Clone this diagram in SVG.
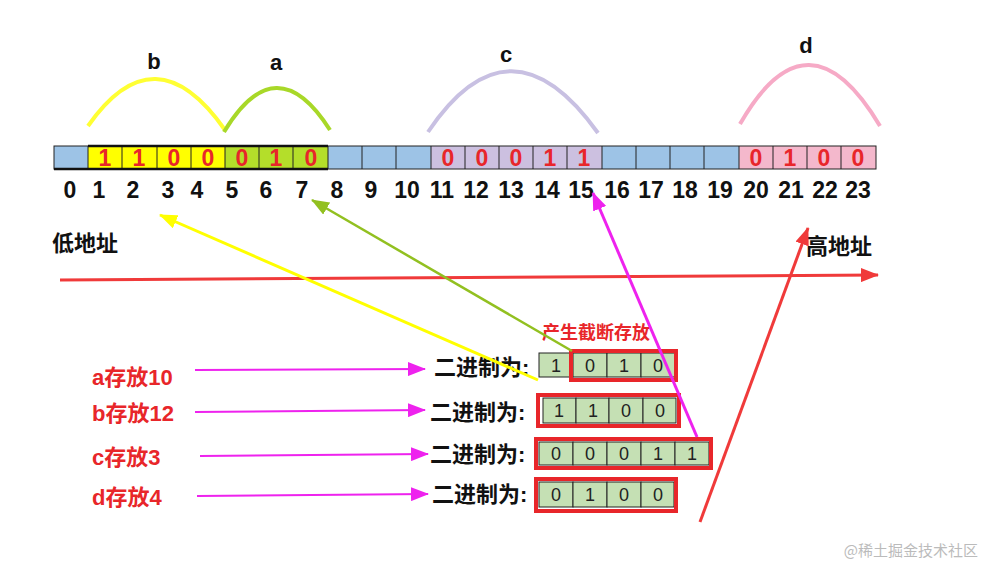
<svg xmlns="http://www.w3.org/2000/svg" width="987" height="565" viewBox="0 0 987 565">
<style>
.c{stroke:#222;stroke-width:1}
.d{font:bold 23px "Liberation Sans",sans-serif;fill:#e8262a;text-anchor:middle}
.n{font:bold 23px "Liberation Sans",sans-serif;fill:#111;text-anchor:middle}
.l{font:bold 22px "Liberation Sans",sans-serif;fill:#111;text-anchor:middle}
.z{font:bold 22px "Liberation Sans","Noto Sans CJK SC",sans-serif;fill:#111}
.r{font:bold 22px "Liberation Sans","Noto Sans CJK SC",sans-serif;fill:#e8262a}
.b{font:18px "Liberation Sans",sans-serif;fill:#222;text-anchor:middle}
.g{fill:#c5e0b4;stroke:#222;stroke-width:1}
.rb{fill:none;stroke:#e8262a;stroke-width:4}
</style>
<defs>
<marker id="mb" markerWidth="18" markerHeight="14" refX="17" refY="7" orient="auto" markerUnits="userSpaceOnUse"><path d="M0,0L18,7L0,14z" fill="#ee22ee"/></marker>
<marker id="my" markerWidth="18" markerHeight="14" refX="17" refY="7" orient="auto" markerUnits="userSpaceOnUse"><path d="M0,0L18,7L0,14z" fill="#ffff00"/></marker>
<marker id="mg" markerWidth="18" markerHeight="14" refX="17" refY="7" orient="auto" markerUnits="userSpaceOnUse"><path d="M0,0L18,7L0,14z" fill="#92c020"/></marker>
<marker id="mr" markerWidth="18" markerHeight="14" refX="17" refY="7" orient="auto" markerUnits="userSpaceOnUse"><path d="M0,0L18,7L0,14z" fill="#f03a3a"/></marker>
</defs>
<rect width="987" height="565" fill="#fff"/>
<g id="strip">
<rect x="54" y="146" width="822" height="23" fill="#9dc3e6"/>
<rect x="88" y="146" width="137" height="23" fill="#ffff00"/>
<rect x="225" y="146" width="103" height="23" fill="#b4de2a"/>
<rect x="431" y="146" width="171" height="23" fill="#ccc0e0"/>
<rect x="739" y="146" width="137" height="23" fill="#f4b8cc"/>
<g stroke="#222" stroke-width="1" fill="none">
<rect x="54" y="146" width="822" height="23"/>
<path d="M88,146v23M122,146v23M157,146v23M191,146v23M225,146v23M259,146v23M293,146v23M328,146v23M362,146v23M396,146v23M431,146v23M465,146v23M499,146v23M533,146v23M567,146v23M602,146v23M636,146v23M670,146v23M704,146v23M739,146v23M773,146v23M807,146v23M841,146v23"/>
</g>
<path d="M54,169H328M88,146H328" stroke="#111" stroke-width="2.5"/>
<g class="d">
<text x="105" y="166">1</text><text x="139" y="166">1</text><text x="174" y="166">0</text><text x="208" y="166">0</text>
<text x="242" y="166">0</text><text x="276" y="166">1</text><text x="311" y="166">0</text>
<text x="448" y="166">0</text><text x="482" y="166">0</text><text x="516" y="166">0</text><text x="550" y="166">1</text><text x="584" y="166">1</text>
<text x="756" y="166">0</text><text x="790" y="166">1</text><text x="824" y="166">0</text><text x="858" y="166">0</text>
</g>
<g class="n">
<text x="70" y="198">0</text><text x="99" y="198">1</text><text x="133" y="198">2</text><text x="168" y="198">3</text><text x="197" y="198">4</text><text x="232" y="198">5</text><text x="266" y="198">6</text><text x="302" y="198">7</text><text x="337" y="198">8</text><text x="371" y="198">9</text><text x="407" y="198">10</text><text x="442" y="198">11</text><text x="476" y="198">12</text><text x="511" y="198">13</text><text x="547" y="198">14</text><text x="581" y="198">15</text><text x="617" y="198">16</text><text x="651" y="198">17</text><text x="685" y="198">18</text><text x="720" y="198">19</text><text x="756" y="198">20</text><text x="791" y="198">21</text><text x="825" y="198">22</text><text x="858" y="198">23</text>
</g>
</g>
<g id="arcs" fill="none" stroke-width="4">
<path d="M88,126Q155,30 225,130" stroke="#ffff33"/>
<path d="M224,132Q276,45 330,130" stroke="#a8d828"/>
<path d="M428,132Q510,10 598,133" stroke="#c8c0e2"/>
<path d="M740,124Q808,5 880,126" stroke="#f6aac6"/>
<text class="l" x="154" y="69" stroke="none">b</text>
<text class="l" x="276" y="70" stroke="none">a</text>
<text class="l" x="506" y="62" stroke="none">c</text>
<text class="l" x="806" y="53" stroke="none">d</text>
</g>
<g id="labels">
<text class="z" x="52" y="251">低地址</text>
<text class="z" x="806" y="254">高地址</text>
<text class="r" x="542" y="339" style="font-size:18px">产生截断存放</text>
<text class="r" x="92" y="385">a存放10</text>
<text class="r" x="92" y="421">b存放12</text>
<text class="r" x="92" y="465">c存放3</text>
<text class="r" x="92" y="505">d存放4</text>
<text class="z" x="434" y="375">二进制为:</text>
<text class="z" x="430" y="420">二进制为:</text>
<text class="z" x="430" y="462">二进制为:</text>
<text class="z" x="432" y="502">二进制为:</text>
</g>
<g id="bin1">
<rect class="g" x="539" y="353" width="34" height="24"/><rect class="g" x="573" y="353" width="34" height="24"/><rect class="g" x="607" y="353" width="34" height="24"/><rect class="g" x="641" y="353" width="34" height="24"/>
<rect class="rb" x="571" y="351" width="105" height="29"/>
<text class="b" x="556" y="372">1</text><text class="b" x="590" y="372">0</text><text class="b" x="624" y="372">1</text><text class="b" x="658" y="372">0</text>
</g>
<g id="bin2">
<rect class="g" x="543" y="398" width="33" height="25"/><rect class="g" x="576" y="398" width="33" height="25"/><rect class="g" x="609" y="398" width="34" height="25"/><rect class="g" x="643" y="398" width="33" height="25"/>
<rect class="rb" x="538" y="395" width="141" height="31"/>
<text class="b" x="559" y="417">1</text><text class="b" x="593" y="417">1</text><text class="b" x="626" y="417">0</text><text class="b" x="660" y="417">0</text>
</g>
<g id="bin3">
<rect class="g" x="539" y="442" width="34" height="23"/><rect class="g" x="573" y="442" width="34" height="23"/><rect class="g" x="607" y="442" width="34" height="23"/><rect class="g" x="641" y="442" width="34" height="23"/><rect class="g" x="675" y="442" width="34" height="23"/>
<rect class="rb" x="536" y="439" width="175" height="29"/>
<text class="b" x="556" y="460">0</text><text class="b" x="590" y="460">0</text><text class="b" x="624" y="460">0</text><text class="b" x="658" y="460">1</text><text class="b" x="692" y="460">1</text>
</g>
<g id="bin4">
<rect class="g" x="539" y="482" width="34" height="25"/><rect class="g" x="573" y="482" width="34" height="25"/><rect class="g" x="607" y="482" width="34" height="25"/><rect class="g" x="641" y="482" width="33" height="25"/>
<rect class="rb" x="536" y="479" width="140" height="32"/>
<text class="b" x="556" y="501">0</text><text class="b" x="590" y="501">1</text><text class="b" x="624" y="501">0</text><text class="b" x="658" y="501">0</text>
</g>
<g id="connectors" fill="none">
<path d="M60,280L878,275" stroke="#f03a3a" stroke-width="3" marker-end="url(#mr)"/>
<path d="M195,370L425,369" stroke="#ee22ee" stroke-width="2" marker-end="url(#mb)"/>
<path d="M195,412L425,410" stroke="#ee22ee" stroke-width="2" marker-end="url(#mb)"/>
<path d="M200,456L428,454" stroke="#ee22ee" stroke-width="2" marker-end="url(#mb)"/>
<path d="M197,496L428,494" stroke="#ee22ee" stroke-width="2" marker-end="url(#mb)"/>
<path d="M538,380L160,215" stroke="#ffff00" stroke-width="3" marker-end="url(#my)"/>
<path d="M572,351L312,200" stroke="#92c020" stroke-width="2.5" marker-end="url(#mg)"/>
<path d="M697,437L593,193" stroke="#ee22ee" stroke-width="3" marker-end="url(#mb)"/>
<path d="M700,522L808,228" stroke="#f03a3a" stroke-width="3" marker-end="url(#mr)"/>
</g>
<text x="978" y="556" style="font:15px 'Noto Sans CJK SC',sans-serif;fill:#bbb;text-anchor:end">@稀土掘金技术社区</text>
</svg>
